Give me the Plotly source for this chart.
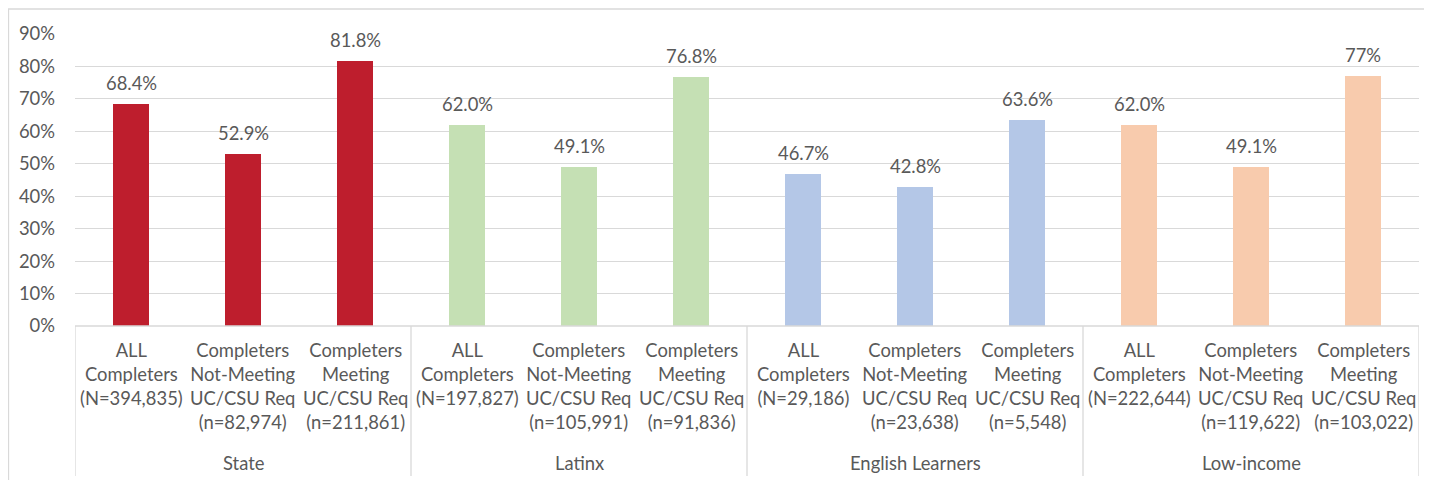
import plotly.graph_objects as go

categories = [
    "ALL<br>Completers<br>(N=394,835)",
    "Completers<br>Not-Meeting<br>UC/CSU Req<br>(n=82,974)",
    "Completers<br>Meeting<br>UC/CSU Req<br>(n=211,861)",
    "ALL<br>Completers<br>(N=197,827)",
    "Completers<br>Not-Meeting<br>UC/CSU Req<br>(n=105,991)",
    "Completers<br>Meeting<br>UC/CSU Req<br>(n=91,836)",
    "ALL<br>Completers<br>(N=29,186)",
    "Completers<br>Not-Meeting<br>UC/CSU Req<br>(n=23,638)",
    "Completers<br>Meeting<br>UC/CSU Req<br>(n=5,548)",
    "ALL<br>Completers<br>(N=222,644)",
    "Completers<br>Not-Meeting<br>UC/CSU Req<br>(n=119,622)",
    "Completers<br>Meeting<br>UC/CSU Req<br>(n=103,022)",
]
groups = ["State", "Latinx", "English Learners", "Low-income"]
values = [0.684, 0.529, 0.818, 0.620, 0.491, 0.768, 0.467, 0.428, 0.636, 0.620, 0.491, 0.770]
value_labels = ["68.4%", "52.9%", "81.8%", "62.0%", "49.1%", "76.8%",
                "46.7%", "42.8%", "63.6%", "62.0%", "49.1%", "77%"]
group_colors = ["#BE1E2D", "#C5E0B4", "#B4C7E7", "#F8CBAD"]
y_ticks = [0, 0.1, 0.2, 0.3, 0.4, 0.5, 0.6, 0.7, 0.8, 0.9]

# figure is placed by the page with an 8px body margin
W, H = 1424, 472
ML, MR, MT, MB = 67, 13, 26, 154
PW, PH = W - ML - MR, H - MT - MB
TXT = "#595959"
GRID = "#d9d9d9"
FONT = "Lato"
FS = 18.4

n = len(values)
xs = list(range(n))
per_group = n // len(groups)
colors = [group_colors[i // per_group] for i in range(n)]

fig = go.Figure()
fig.add_trace(go.Bar(x=xs, y=values, marker_color=colors, width=0.32,
                     marker_line_width=0, showlegend=False, hoverinfo="skip"))

def py2paper(py):
    return (H - MB - py) / PH

def px2paper(px):
    return (px - ML) / PW

AXIS_Y = H - MB
annotations = []
for i, (v, lab) in enumerate(zip(values, value_labels)):
    annotations.append(dict(x=i, y=v, xref="x", yref="y", text=lab, showarrow=False,
                            yanchor="bottom", yshift=8, font=dict(family=FONT, size=FS, color=TXT)))
for i, c in enumerate(categories):
    annotations.append(dict(x=i, y=py2paper(AXIS_Y + 11), xref="x", yref="paper", text=c, showarrow=False,
                            yanchor="top", align="center", font=dict(family=FONT, size=FS, color=TXT)))
for g, name in enumerate(groups):
    annotations.append(dict(x=g * per_group + (per_group - 1) / 2, y=py2paper(AXIS_Y + 137), xref="x",
                            yref="paper", text=name, showarrow=False, yanchor="middle",
                            font=dict(family=FONT, size=FS, color=TXT)))

shapes = []
# outer chart border (right and bottom edges lie outside the picture)
shapes.append(dict(type="rect", xref="paper", yref="paper",
                   x0=px2paper(0.5), x1=px2paper(W + 10), y0=py2paper(H + 10), y1=py2paper(1),
                   line=dict(color=GRID, width=1.3), layer="below"))
# axis line
shapes.append(dict(type="line", xref="paper", yref="paper", x0=0, x1=1, y0=0, y1=0,
                   line=dict(color=GRID, width=1.3)))
# group separators
for g in range(len(groups) + 1):
    xb = g * per_group - 0.5
    shapes.append(dict(type="line", xref="x", yref="paper", x0=xb, x1=xb,
                       y0=0, y1=py2paper(H - 4), line=dict(color=GRID, width=1.3)))

fig.update_layout(
    width=W, height=H,
    margin=dict(l=ML, r=MR, t=MT, b=MB, pad=0),
    paper_bgcolor="white", plot_bgcolor="white",
    bargap=0,
    annotations=annotations, shapes=shapes,
    xaxis=dict(range=[-0.5, n - 0.5], showticklabels=False, showgrid=False,
               zeroline=False, showline=False, ticks=""),
    yaxis=dict(range=[0, 0.9], tickvals=y_ticks, tickformat=".0%", showgrid=True,
               gridcolor=GRID, gridwidth=1.3, zeroline=False, showline=False, ticks="",
               ticklabelstandoff=19,
               tickfont=dict(family=FONT, size=FS, color=TXT)),
)

fig.write_html("out.html")
